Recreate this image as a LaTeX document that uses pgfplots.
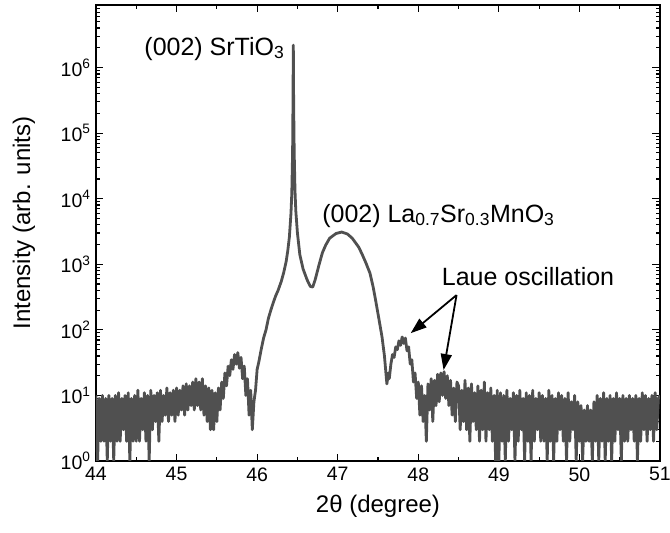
\documentclass[border=0pt]{standalone}
\usepackage{pgfplots}
\pgfplotsset{compat=1.18}
\usepackage{fontspec}
\setmainfont{Liberation Sans}
\usetikzlibrary{arrows.meta}
\definecolor{curve}{RGB}{80,80,80}
\begin{document}
\begin{tikzpicture}
\begin{axis}[
  at={(0pt,0pt)}, anchor=south west,
  width=564pt, height=456pt, scale only axis,
  xmin=44, xmax=51, ymode=log, ymin=1, ymax=9e6,
  xtick={44,45,46,47,48,49,50,51},
  minor x tick num=1,
  ytick={1,10,100,1000,10000,100000,1000000},
  yticklabels={10\textsuperscript{0},10\textsuperscript{1},10\textsuperscript{2},10\textsuperscript{3},10\textsuperscript{4},10\textsuperscript{5},10\textsuperscript{6}},
  minor ytick={2,3,4,5,6,7,8,9,20,30,40,50,60,70,80,90,200,300,400,500,600,700,800,900,2000,3000,4000,5000,6000,7000,8000,9000,2e4,3e4,4e4,5e4,6e4,7e4,8e4,9e4,2e5,3e5,4e5,5e5,6e5,7e5,8e5,9e5,2e6,3e6,4e6,5e6,6e6,7e6,8e6},
  xtick pos=both, ytick pos=both,
  xticklabel pos=lower, yticklabel pos=left,
  tick align=inside,
  major tick length=7.5pt, minor tick length=4pt,
  every tick/.style={black, line width=1.2pt},
  axis line style={black, line width=1.5pt},
  /pgf/number format/assume math mode=true,
  tick label style={font=\fontsize{19.5}{23}\selectfont},
  xticklabel style={yshift=-3pt},
  yticklabel style={xshift=-2pt},
  xlabel={2θ (degree)},
  ylabel={Intensity (arb. units)},
  label style={font=\fontsize{24}{29}\selectfont},
  x label style={at={(axis description cs:0.5,-0.114)}, anchor=base},
  y label style={at={(axis description cs:-0.128,0.522)}, anchor=center, rotate=0},
  clip=true,
]
\addplot[curve, line width=2.8pt, line join=round] coordinates {
(44.00,10)(44.02,1)(44.04,9)(44.06,2)(44.08,10)(44.10,2)(44.12,9)(44.14,1)(44.16,10)(44.18,2)
(44.20,9)(44.22,1)(44.24,10)(44.26,2)(44.28,11)(44.30,2)(44.32,9)(44.34,3)(44.36,10)(44.38,2)
(44.40,11)(44.42,1)(44.44,9)(44.46,2)(44.48,10)(44.50,2)(44.52,12)(44.54,2)(44.56,9)(44.58,3)
(44.60,11)(44.62,2)(44.64,10)(44.66,1)(44.68,12)(44.70,3)(44.72,10)(44.74,4)(44.76,11)(44.78,2)
(44.80,12)(44.82,4)(44.84,10)(44.86,5)(44.88,13)(44.90,4)(44.92,11)(44.94,5)(44.96,12)(44.98,4)
(45.00,13)(45.02,5)(45.04,12)(45.06,6)(45.08,14)(45.10,5)(45.12,15)(45.14,6)(45.16,14)(45.18,7)
(45.20,16)(45.22,6)(45.24,18)(45.26,7)(45.28,16)(45.30,6)(45.32,18)(45.34,5)(45.36,14)(45.38,4)
(45.40,13)(45.42,3)(45.44,12)(45.46,3)(45.48,11)(45.50,4)(45.52,13)(45.54,6)(45.56,16)(45.58,9)
(45.60,22)(45.62,14)(45.64,28)(45.66,20)(45.68,35)(45.70,25)(45.72,42)(45.74,30)(45.76,45)(45.78,26)
(45.80,38)(45.82,18)(45.84,28)(45.86,10)(45.88,18)(45.90,5)(45.92,12)(45.94,3)(45.96,8)(45.98,12)
(46.00,25)(46.02,32)(46.05,50)(46.08,75)(46.11,100)(46.14,150)(46.17,200)(46.20,260)(46.23,330)(46.26,400)
(46.30,550)(46.33,750)(46.36,1100)(46.38,1600)(46.40,2600)(46.42,6000)(46.43,12000)(46.44,50000)(46.445,300000)(46.449,2200000)
(46.453,300000)(46.46,50000)(46.47,13000)(46.48,6500)(46.50,3000)(46.53,1400)(46.57,850)(46.62,580)(46.66,460)(46.69,450)
(46.72,580)(46.77,1000)(46.81,1500)(46.85,1950)(46.90,2500)(46.98,2950)(47.05,3100)(47.12,2900)(47.18,2500)(47.26,1830)
(47.30,1450)(47.35,1050)(47.40,735)(47.44,450)(47.47,285)(47.51,150)(47.55,78)(47.58,40)(47.61,15)(47.63,22)
(47.64,18)(47.66,30)(47.68,42)(47.70,38)(47.72,55)(47.74,50)(47.76,68)(47.78,58)(47.80,78)(47.82,62)
(47.84,75)(47.86,48)(47.88,55)(47.90,30)(47.92,35)(47.94,16)(47.96,22)(47.98,9)(48.00,16)(48.02,5)
(48.04,14)(48.06,4)(48.08,10)(48.10,2)(48.12,15)(48.14,6)(48.16,18)(48.18,4)(48.20,17)(48.22,7)
(48.24,21)(48.26,8)(48.28,22)(48.30,10)(48.32,23)(48.34,9)(48.36,20)(48.38,7)(48.40,17)(48.42,5)
(48.44,13)(48.46,4)(48.48,16)(48.50,14)(48.52,3)(48.54,12)(48.56,4)(48.58,17)(48.60,3)(48.62,13)
(48.64,2)(48.66,15)(48.68,4)(48.70,11)(48.72,3)(48.74,14)(48.76,2)(48.78,12)(48.80,3)(48.82,16)
(48.84,2)(48.86,11)(48.88,3)(48.90,13)(48.92,2)(48.94,10)(48.96,1)(48.98,12)(49.00,1)(49.02,11)
(49.04,2)(49.06,10)(49.08,1)(49.10,12)(49.12,2)(49.14,9)(49.16,3)(49.18,11)(49.20,1)(49.22,10)
(49.24,2)(49.26,12)(49.28,3)(49.30,9)(49.32,1)(49.34,11)(49.36,2)(49.38,10)(49.40,1)(49.42,12)
(49.44,2)(49.46,9)(49.48,3)(49.50,11)(49.52,2)(49.54,10)(49.56,2)(49.58,9)(49.60,1)(49.62,12)
(49.64,2)(49.66,10)(49.68,1)(49.70,9)(49.72,2)(49.74,11)(49.76,3)(49.78,10)(49.80,2)(49.82,9)
(49.84,1)(49.86,11)(49.88,2)(49.90,8)(49.92,3)(49.94,10)(49.96,1)(49.98,8)(50.00,2)(50.02,7)
(50.04,1)(50.06,6)(50.08,2)(50.10,7)(50.12,2)(50.14,6)(50.16,1)(50.18,8)(50.20,2)(50.22,10)
(50.24,1)(50.26,9)(50.28,2)(50.30,11)(50.32,1)(50.34,9)(50.36,2)(50.38,10)(50.40,1)(50.42,9)
(50.44,2)(50.46,11)(50.48,3)(50.50,9)(50.52,1)(50.54,10)(50.56,2)(50.58,9)(50.60,2)(50.62,10)
(50.64,3)(50.66,9)(50.68,2)(50.70,10)(50.72,1)(50.74,9)(50.76,2)(50.78,11)(50.80,3)(50.82,10)
(50.84,2)(50.86,9)(50.88,3)(50.90,10)(50.92,2)(50.94,11)(50.96,3)(50.98,9)(51.00,10)
};
\node[anchor=base east, font=\fontsize{25}{30}\selectfont, inner sep=0pt] at (axis cs:46.34,1.55e6) {(002) SrTiO\textsubscript{3}};
\node[anchor=base west, font=\fontsize{25}{30}\selectfont, inner sep=0pt] at (axis cs:46.806,4400) {(002) La\textsubscript{0.7}Sr\textsubscript{0.3}MnO\textsubscript{3}};
\node[anchor=base west, font=\fontsize{25}{30}\selectfont, inner sep=0pt] at (axis cs:48.29,482) {Laue oscillation};
\draw[black, line width=1.8pt, -{Triangle[length=16pt,width=11pt]}] (axis cs:48.475,339) -- (axis cs:47.906,89);
\draw[black, line width=1.8pt, -{Triangle[length=16pt,width=11pt]}] (axis cs:48.475,339) -- (axis cs:48.314,24.4);
\end{axis}
\pgfresetboundingbox
\path (-96pt,-72pt) rectangle (574pt,461pt);
\end{tikzpicture}
\end{document}
